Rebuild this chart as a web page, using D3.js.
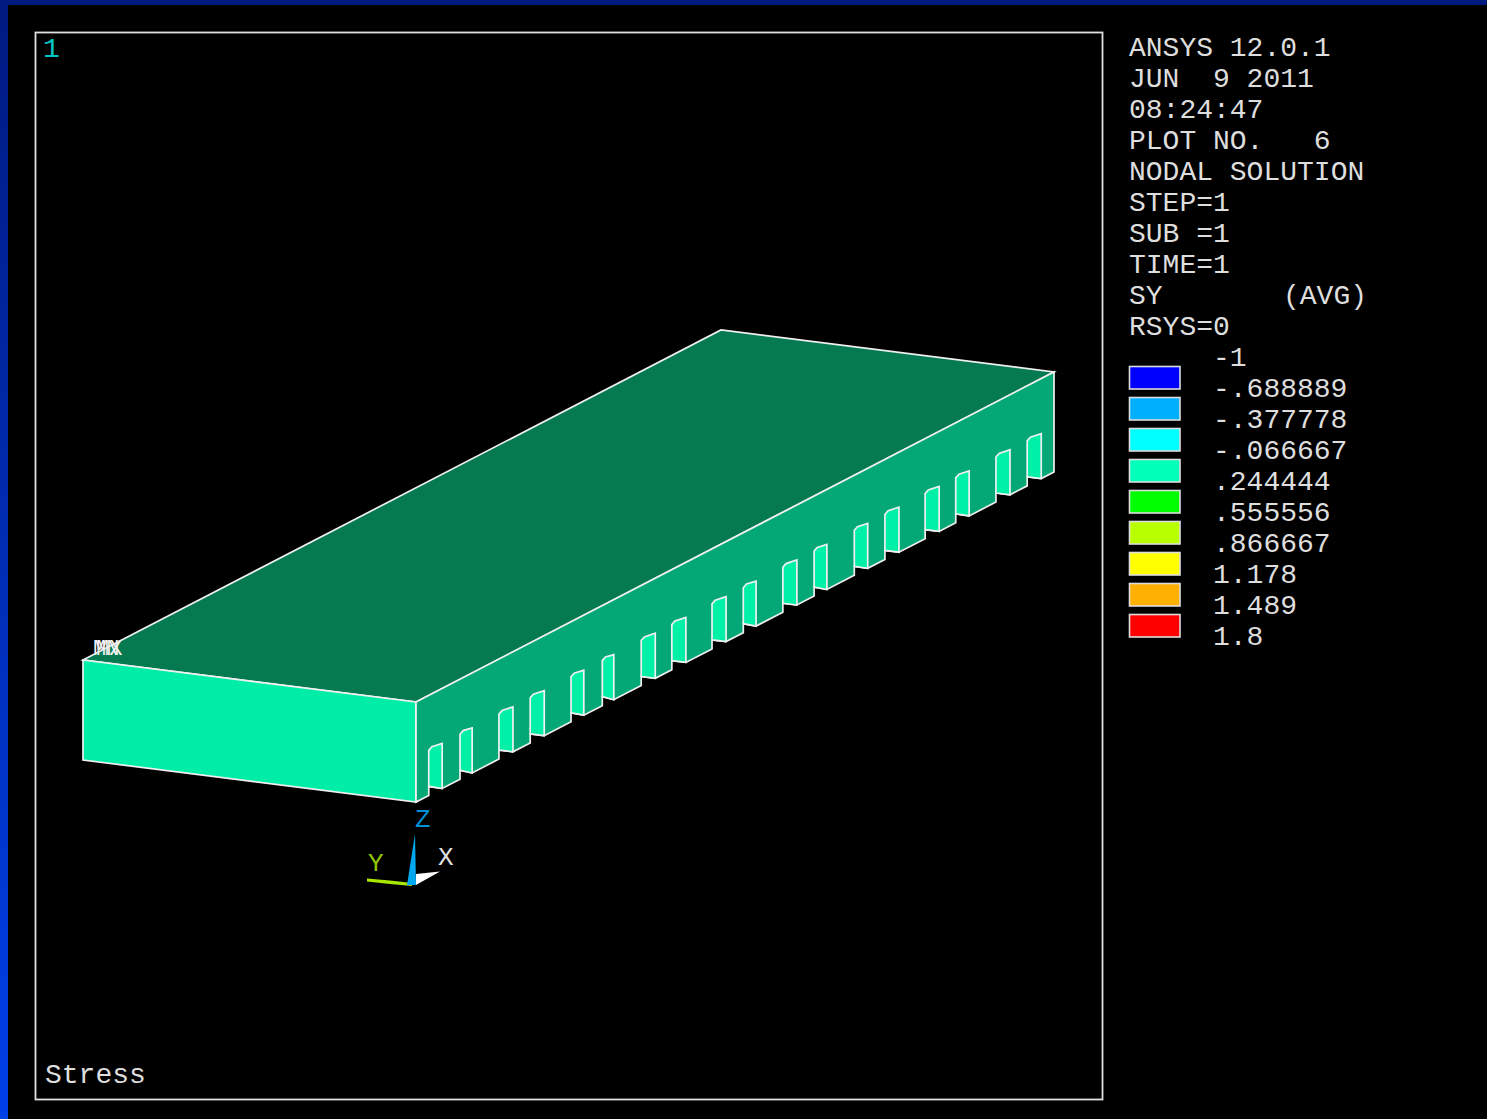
<!DOCTYPE html>
<html><head><meta charset="utf-8">
<script src="https://cdn.jsdelivr.net/npm/d3@7"></script>
<style>html,body{margin:0;padding:0;background:#000;overflow:hidden}svg{display:block}text{font-family:"Liberation Mono",monospace;white-space:pre}</style>
</head><body><div id="chart"></div>
<script>
const infoLines = ["ANSYS 12.0.1","JUN  9 2011","08:24:47","PLOT NO.   6","NODAL SOLUTION","STEP=1","SUB =1","TIME=1","SY","RSYS=0"];
const legendLabels = ["-1","-.688889","-.377778","-.066667",".244444",".555556",".866667","1.178","1.489","1.8"];
const legendColors = ["#0000ff","#00b0ff","#00ffff","#00ffb8","#00ff00","#b8ff00","#ffff00","#ffb000","#ff0000"];
const notchStart = [.020,.069,.130,.179,.243,.292,.353,.401,.464,.513,.575,.624,.687,.735,.798,.846,.909,.958];
const notchEnd   = [.041,.088,.152,.201,.263,.310,.375,.423,.486,.533,.597,.644,.708,.757,.820,.867,.931,.980];
const notchTop = 0.45, notchCrown = 0.47, notchFloor = 0.09;
const faceColors = {top:"#057a50", side:"#03a876", front:"#00eda8", notch:"#00f0a8"};

const W = 1487, H = 1119;
const svg = d3.select("#chart").append("svg").attr("width",W).attr("height",H).attr("viewBox",`0 0 ${W} ${H}`);
const defs = svg.append("defs");
const grad = defs.append("linearGradient").attr("id","lb").attr("x1",0).attr("x2",0).attr("y1",0).attr("y2",1);
grad.append("stop").attr("offset","0%").attr("stop-color","#001a80");
grad.append("stop").attr("offset","100%").attr("stop-color","#0040e8");
svg.append("rect").attr("width",W).attr("height",H).attr("fill","#000");
svg.append("rect").attr("width",W).attr("height",5).attr("fill","#001a80");
svg.append("rect").attr("width",8).attr("height",H).attr("fill","url(#lb)");
svg.append("rect").attr("x",35.5).attr("y",32.5).attr("width",1067).attr("height",1067).attr("fill","none").attr("stroke","#e0e0e0").attr("stroke-width",1.8);

// oblique projection of the beam: length u, width v, height z, all 0..1
const uX = d3.scaleLinear([0,1],[0,638]), uY = d3.scaleLinear([0,1],[0,-330]);
const vX = d3.scaleLinear([0,1],[0,-333]), vY = d3.scaleLinear([0,1],[0,-42]);
const zY = d3.scaleLinear([0,1],[0,-100]);
const P = (u,v,z)=>[416+uX(u)+vX(v), 802+uY(u)+vY(v)+zY(z)];
const line = d3.line();
const closed = pts => line(pts)+"Z";
const beam = svg.append("g").attr("stroke","#f0f0f0").attr("stroke-width",1.7).attr("stroke-linejoin","miter");

beam.append("path").attr("d",closed([P(0,1,1),P(1,1,1),P(1,0,1),P(0,0,1)])).attr("fill",faceColors.top);
beam.append("path").attr("d",closed([P(0,0,0),P(0,0,1),P(0,1,1),P(0,1,0)])).attr("fill",faceColors.front);

const sideOutline = [P(0,0,1),P(1,0,1),P(1,0,0)];
for(let i=notchStart.length-1;i>=0;i--){
  sideOutline.push(P(notchEnd[i],0,0),P(notchStart[i],0,notchFloor),P(notchStart[i],0,0));
}
sideOutline.push(P(0,0,0));
beam.append("path").attr("d",closed(sideOutline)).attr("fill",faceColors.side);

beam.selectAll("path.n").data(d3.range(notchStart.length)).join("path").attr("class","n")
  .attr("fill",faceColors.notch)
  .attr("d",i=>closed([
    P(notchStart[i],0,notchFloor),
    P(notchStart[i],0,notchTop),
    P(notchStart[i]+.005,0,notchCrown),
    P(notchEnd[i],0,notchTop),
    P(notchEnd[i],0,0)]));

// text blocks
const rowY = d3.scaleLinear([0,1],[56,87.05]);
const textFill = "#dedede";
svg.append("g").attr("fill",textFill).attr("font-size",28).selectAll("text").data(infoLines).join("text")
  .attr("x",1129).attr("y",(d,i)=>rowY(i)).text(d=>d);
svg.append("text").attr("x",1283).attr("y",rowY(8)).attr("fill",textFill).attr("font-size",28).text("(AVG)");

const labelY = d3.scalePoint().domain(legendLabels).range([365.5,645]);
svg.append("g").attr("fill",textFill).attr("font-size",28).selectAll("text").data(legendLabels).join("text")
  .attr("x",1213).attr("y",d=>labelY(d)).text(d=>d);

const swatchY = d3.scalePoint().domain(legendColors).range([366,614]);
svg.append("g").attr("stroke","#dcdcdc").attr("stroke-width",1.6).selectAll("rect").data(legendColors).join("rect")
  .attr("x",1129.5).attr("y",d=>swatchY(d)+.5).attr("width",50.5).attr("height",22.5).attr("fill",d=>d);

svg.append("text").attr("x",43).attr("y",57).attr("fill","#00c8c8").attr("font-size",28).text("1");
svg.append("text").attr("x",45).attr("y",1083).attr("fill",textFill).attr("font-size",28).text("Stress");
svg.append("text").attr("x",93).attr("y",655).attr("fill","#f0f0f0").attr("font-size",22).text("MN");
svg.append("text").attr("x",96).attr("y",655).attr("fill","#f0f0f0").attr("font-size",22).text("MX");

// triad
const triadX = [["#a8e800",[[367,878.5],[390,880.5],[412,883],[412,886],[390,884],[367,881.5]]],
                ["#ffffff",[[416,874],[440,871.5],[416,885]]],
                ["#00a8f0",[[415,834],[407,885],[416,885]]]];
svg.append("g").selectAll("path").data(triadX).join("path").attr("fill",d=>d[0]).attr("d",d=>closed(d[1]));
const triadLabels = [["Z",415,827,"#0090d8"],["X",438,865,"#e0e0e0"],["Y",368,871,"#90c800"]];
svg.append("g").attr("font-size",26).selectAll("text").data(triadLabels).join("text")
  .attr("x",d=>d[1]).attr("y",d=>d[2]).attr("fill",d=>d[3]).text(d=>d[0]);
</script></body></html>
